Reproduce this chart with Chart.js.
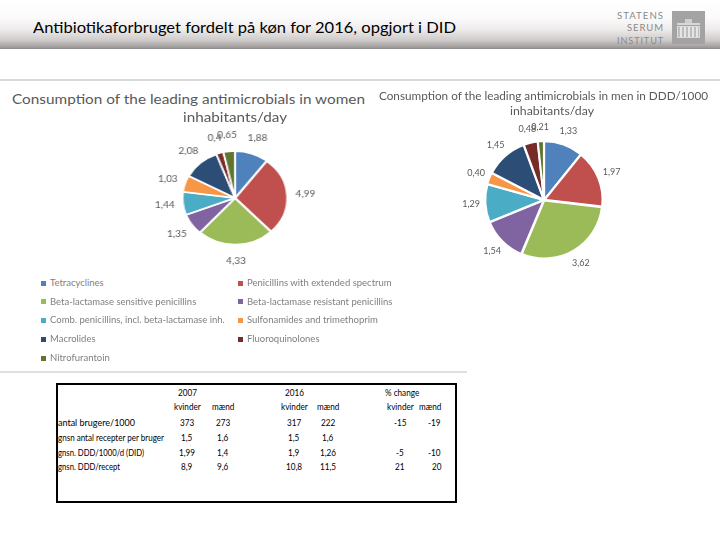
<!DOCTYPE html>
<html><head><meta charset="utf-8">
<script src="https://cdn.jsdelivr.net/npm/chart.js@4.4.1/dist/chart.umd.min.js"></script>
<style>
html,body{margin:0;padding:0;width:720px;height:540px;background:#fff;overflow:hidden;font-family:Lato,"Open Sans",sans-serif;}
.abs{position:absolute;white-space:nowrap;line-height:1;}
#band{position:absolute;left:0;top:0;width:720px;height:49px;background:linear-gradient(to bottom,#ffffff 0%,#fcfbfb 35%,#eeebeb 60%,#cfcbcb 82%,#a29e9e 96%,#8e8a8a 100%);}
.line{position:absolute;background:#d9d9d9;}
.wrap{position:absolute;}
#logo{position:absolute;left:672px;top:11px;width:33px;height:33px;background:#a3a3a3;}
</style></head><body>
<div id="band"></div>
<div id="logo">
  <div style="position:absolute;left:5px;top:12px;width:23px;height:2px;background:#d8d8d8"></div>
  <div style="position:absolute;left:5px;top:15px;width:23px;height:12px;border:1px solid #dcdcdc;box-sizing:border-box;background:repeating-linear-gradient(to right,#bdbdbd 0 2px,#e6e6e6 2px 4px)"></div>
  <div style="position:absolute;left:13px;top:8px;width:7px;height:4px;background:#cfcfcf"></div>
</div>
<div class="line" style="left:0;top:79px;width:720px;height:2px;"></div>
<div class="line" style="left:0;top:371px;width:467px;height:1.5px;background:#e0e0e0"></div>
<div style="position:absolute;left:56px;top:383px;width:401px;height:120px;border:2.5px solid #000;box-sizing:border-box;"></div>
<div class="wrap" style="left:145px;top:108px;width:180px;height:180px;transform:scaleX(1.12);transform-origin:50% 50%;"><canvas id="women" width="180" height="180"></canvas></div>
<div class="wrap" style="left:444px;top:100px;width:200px;height:200px;"><canvas id="men" width="200" height="200"></canvas></div>
<script>
// ---- data ----
const categories = [
  "Tetracyclines",
  "Penicillins with extended spectrum",
  "Beta-lactamase sensitive penicillins",
  "Beta-lactamase resistant penicillins",
  "Comb. penicillins, incl. beta-lactamase inh.",
  "Sulfonamides and trimethoprim",
  "Macrolides",
  "Fluoroquinolones",
  "Nitrofurantoin"
];
const womenValues = [1.88, 4.99, 4.33, 1.35, 1.44, 1.03, 2.08, 0.4, 0.65];
const menValues   = [1.33, 1.97, 3.62, 1.54, 1.29, 0.40, 1.45, 0.48, 0.21];
const colors = ["#4F81BD","#C0504D","#9BBB59","#8064A2","#4BACC6","#F79646","#2C4D75","#772C2A","#5F7530"];

const pageTitle = "Antibiotikaforbruget fordelt på køn for 2016, opgjort i DID";
const womenTitle = ["Consumption of the leading antimicrobials in women", "inhabitants/day"];
const menTitle = ["Consumption of the leading antimicrobials in men in DDD/1000", "inhabitants/day"];

const tableYears = ["2007", "2016", "% change"];
const tableSub = ["kvinder", "mænd", "kvinder", "mænd", "kvinder", "mænd"];
const tableRows = ["antal brugere/1000", "gnsn antal recepter per bruger", "gnsn. DDD/1000/d (DID)", "gnsn. DDD/recept"];
const women2007 = ["373", "1,5", "1,99", "8,9"];
const men2007   = ["273", "1,6", "1,4", "9,6"];
const women2016 = ["317", "1,5", "1,9", "10,8"];
const men2016   = ["222", "1,6", "1,26", "11,5"];
const womenChange = ["-15", "", "-5", "21"];
const menChange   = ["-19", "", "-10", "20"];

// ---- text helper ----
function place(text, o){
  const d = document.createElement('div');
  d.className = 'abs'; d.textContent = text;
  d.style.fontSize = o.size + 'px';
  d.style.color = o.color || '#000';
  if (o.ls) d.style.letterSpacing = o.ls + 'px';
  document.body.appendChild(d);
  const mw = d.getBoundingClientRect().width;
  const s = o.w ? o.w / mw : (o.sx || 1);
  const w = mw * s;
  const left = o.align === 'center' ? o.x - w/2 : (o.align === 'right' ? o.x - w : o.x);
  d.style.left = left + 'px';
  d.style.top = (o.cy - o.size * 0.55) + 'px';
  d.style.transformOrigin = '0 50%';
  d.style.transform = 'scaleX(' + s + ')';
  return d;
}

place(pageTitle, {x:33, cy:28, size:16, w:423});
place("STATENS", {x:664, cy:15, size:10, color:'#8a8a8a', ls:1, align:'right', w:47});
place("SERUM", {x:664, cy:27, size:10, color:'#8a8a8a', ls:1, align:'right', w:37});
place("INSTITUT", {x:664, cy:40, size:10, color:'#8a8a8a', ls:1, align:'right', w:47});

place(womenTitle[0], {x:12, cy:100, size:14, color:'#595959', w:353});
place(womenTitle[1], {x:235, cy:118, size:14, color:'#595959', w:104, align:'center'});
place(menTitle[0], {x:379, cy:96, size:11.5, color:'#595959', w:329});
place(menTitle[1], {x:552, cy:111, size:11.5, color:'#595959', w:84, align:'center'});

// legend
categories.forEach((c, i) => {
  const col = i % 2, row = Math.floor(i / 2);
  const mx = col ? 238 : 41, cy = 283 + row * 18.8;
  const m = document.createElement('div');
  m.style.cssText = 'position:absolute;width:5px;height:5px;left:' + mx + 'px;top:' + (cy - 2.5) + 'px;background:' + colors[i];
  document.body.appendChild(m);
  place(c, {x:mx + 9, cy:cy, size:9.5, color:'#7f7f7f'});
});

// table
const tSize = 9.5, tsx = 0.86;
[187, 294, 402].forEach((x, i) => place(tableYears[i], {x:x, cy:393, size:tSize, sx:tsx, align:'center'}));
const colX = [187, 223, 294, 328, 400, 441];
tableSub.forEach((t, i) => place(t, {x:colX[i], cy:407, size:tSize, sx:tsx, align: i === 5 ? 'right' : 'center'}));
const rowW = [77, 106, 86, 62];
const cols = [women2007, men2007, women2016, men2016, womenChange, menChange];
tableRows.forEach((r, ri) => {
  const cy = [423, 438, 453, 467][ri];
  place(r, {x:58, cy:cy, size:tSize, w:rowW[ri]});
  cols.forEach((col, ci) => {
    if (col[ri]) place(col[ri], {x:colX[ci], cy:cy, size:tSize, sx:tsx, align: ci === 5 ? 'right' : 'center'});
  });
});

// ---- charts ----
const sliceLabels = {
  id: 'sliceLabels',
  afterDatasetsDraw(chart, args, o){
    const ctx = chart.ctx, meta = chart.getDatasetMeta(0), vals = chart.data.datasets[0].data;
    ctx.save();
    ctx.font = o.size + 'px Lato';
    ctx.fillStyle = '#595959';
    ctx.textAlign = 'center'; ctx.textBaseline = 'middle';
    meta.data.forEach((arc, i) => {
      const p = arc.getProps(['x','y','startAngle','endAngle','outerRadius'], true);
      const a = (p.startAngle + p.endAngle) / 2, r = p.outerRadius + o.gap;
      ctx.fillText(o.fmt(vals[i]), p.x + Math.cos(a) * r, p.y + Math.sin(a) * r);
    });
    ctx.restore();
  }
};
function pie(id, values, R, gap, bw, fmt, size){
  return new Chart(document.getElementById(id), {
    type: 'pie',
    data: {labels: categories, datasets: [{data: values, backgroundColor: colors, borderColor: '#fff', borderWidth: bw, offset: 2}]},
    options: {
      responsive: false, animation: false, events: [], radius: R,
      plugins: {legend: {display: false}, tooltip: {enabled: false}, sliceLabels: {gap: gap, fmt: fmt, size: size}}
    },
    plugins: [sliceLabels]
  });
}
pie('women', womenValues, 46, 17, 1.5, v => String(v).replace('.', ','), 9);
pie('men', menValues, 58, 15, 2, v => v.toFixed(2).replace('.', ','), 9);
</script>
</body></html>
